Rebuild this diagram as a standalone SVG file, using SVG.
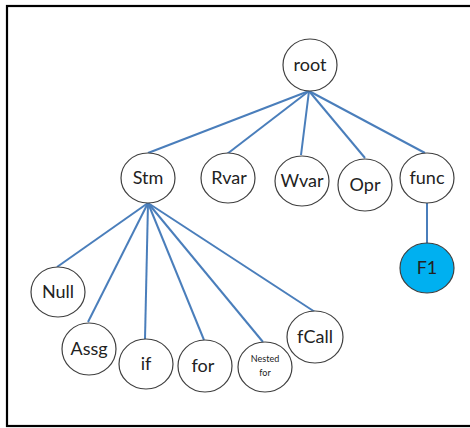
<svg xmlns="http://www.w3.org/2000/svg" width="470" height="428" viewBox="0 0 470 428">
<style>
.n ellipse{fill:#fff;stroke:#404040;stroke-width:1.2}
.n text{font-family:Lato,"Liberation Sans",Arial,sans-serif;font-size:18px;fill:#222;text-anchor:middle}
#conn line{stroke:#4A7EBB;stroke-width:2}
</style>
<rect x="7" y="6" width="470" height="420" fill="#fff" stroke="#000" stroke-width="2.2"/>
<g id="conn">
<line x1="309" y1="91" x2="148" y2="153"/>
<line x1="309" y1="91" x2="227" y2="154"/>
<line x1="309" y1="91" x2="301" y2="155"/>
<line x1="309" y1="91" x2="365" y2="158"/>
<line x1="309" y1="91" x2="425" y2="153"/>
<line x1="427" y1="203" x2="427" y2="243"/>
<line x1="148" y1="203" x2="57" y2="267"/>
<line x1="148" y1="203" x2="88" y2="322"/>
<line x1="148" y1="203" x2="145" y2="339"/>
<line x1="148" y1="203" x2="204" y2="340"/>
<line x1="148" y1="203" x2="263" y2="342"/>
<line x1="148" y1="203" x2="315" y2="312"/>
</g>
<g id="root" class="n"><ellipse cx="310" cy="65" rx="27" ry="26"/><text x="310" y="71">root</text></g>
<g id="stm" class="n"><ellipse cx="148" cy="178" rx="27" ry="25"/><text x="148" y="184">Stm</text></g>
<g id="rvar" class="n"><ellipse cx="228" cy="178" rx="27" ry="25"/><text x="229" y="184">Rvar</text></g>
<g id="wvar" class="n"><ellipse cx="302" cy="181" rx="27" ry="25"/><text x="302" y="187">Wvar</text></g>
<g id="opr" class="n"><ellipse cx="365" cy="185" rx="27" ry="26"/><text x="365" y="191">Opr</text></g>
<g id="func" class="n"><ellipse cx="427" cy="178" rx="27" ry="25"/><text x="427" y="184">func</text></g>
<g id="f1" class="n"><ellipse cx="427" cy="268" rx="27" ry="25" style="fill:#00B0F0"/><text x="427" y="274">F1</text></g>
<g id="null" class="n"><ellipse cx="58" cy="292" rx="27" ry="25"/><text x="58" y="298">Null</text></g>
<g id="assg" class="n"><ellipse cx="89" cy="349" rx="27" ry="26"/><text x="89" y="355">Assg</text></g>
<g id="if" class="n"><ellipse cx="146" cy="364" rx="27" ry="25"/><text x="146" y="370">if</text></g>
<g id="for" class="n"><ellipse cx="205" cy="366" rx="27" ry="26"/><text x="203" y="372">for</text></g>
<g id="nested" class="n"><ellipse cx="265" cy="367" rx="27" ry="25"/><text x="265" y="362" style="font-size:9px">Nested</text><text x="265" y="376" style="font-size:9px">for</text></g>
<g id="fcall" class="n"><ellipse cx="315" cy="337" rx="28" ry="26"/><text x="315" y="343">fCall</text></g>
</svg>
